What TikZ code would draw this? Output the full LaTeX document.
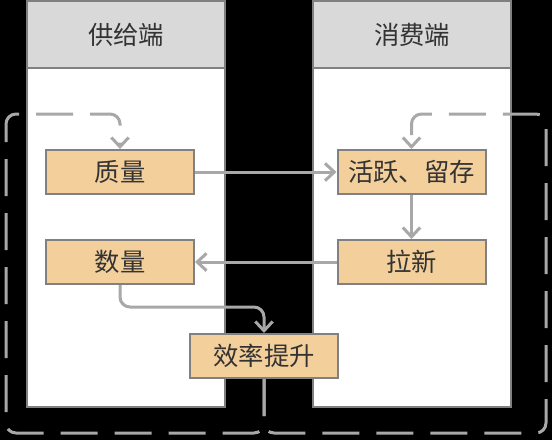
\documentclass[tikz,border=0pt]{standalone}
\usepackage{fontspec}
\setmainfont{Noto Sans CJK SC}
\usetikzlibrary{arrows.meta}
\definecolor{colborder}{HTML}{808080}
\definecolor{headfill}{HTML}{D9D9D9}
\definecolor{nodefill}{HTML}{F3CF9B}
\definecolor{linegray}{HTML}{A8A8A8}
\definecolor{txt}{HTML}{333333}
\tikzset{
  colbody/.style={draw=colborder, line width=1.5pt, fill=white},
  headbox/.style={draw=colborder, line width=1.5pt, fill=headfill, text=txt,
    minimum width=148.5pt, minimum height=50.25pt, inner sep=0pt,
    font=\fontsize{19pt}{22pt}\selectfont},
  stepbox/.style={draw=colborder, line width=1.5pt, fill=nodefill, text=txt,
    minimum width=111pt, minimum height=33pt, inner sep=0pt,
    font=\fontsize{19pt}{22pt}\selectfont},
  conn/.style={draw=linegray, line width=2.25pt,
    -{Straight Barb[length=7pt,width=13pt]}},
  loopline/.style={conn, rounded corners=7.5pt,
    dash pattern=on 27.75pt off 12.75pt},
}
\begin{document}
\begin{tikzpicture}[x=0.75pt,y=-0.75pt]
\fill[black] (0,0) rectangle (552,440);
\useasboundingbox (0,0) rectangle (552,440);

% columns
\draw[colbody] (27,1) rectangle (225,407);
\draw[colbody] (313,1) rectangle (511,407);
\node[headbox] (lh) at (126,34.5) {供给端};
\node[headbox] (rh) at (412,34.5) {消费端};

% step nodes
\node[stepbox] (q) at (120,172) {质量};
\node[stepbox] (h) at (411.5,172) {活跃、留存};
\node[stepbox] (n) at (120,262) {数量};
\node[stepbox] (l) at (411.5,262) {拉新};
\node[stepbox] (e) at (264,356) {效率提升};

% connectors
\draw[conn] (q.east) -- (h.west);
\draw[conn] (h.south) -- (l.north);
\draw[conn] (l.west) -- (n.east);
\draw[conn, rounded corners=7.5pt] (n.south) -- (120,307) -- (264,307) -- (e.north);

% dashed feedback loops
\draw[loopline] (e.south) -- (264,433) -- (6,433) -- (6,114) -- (120,114) -- (q.north);
\draw[loopline] (e.south) -- (264,433) -- (546,433) -- (546,114) -- (411.5,114) -- (h.north);
\end{tikzpicture}
\end{document}
